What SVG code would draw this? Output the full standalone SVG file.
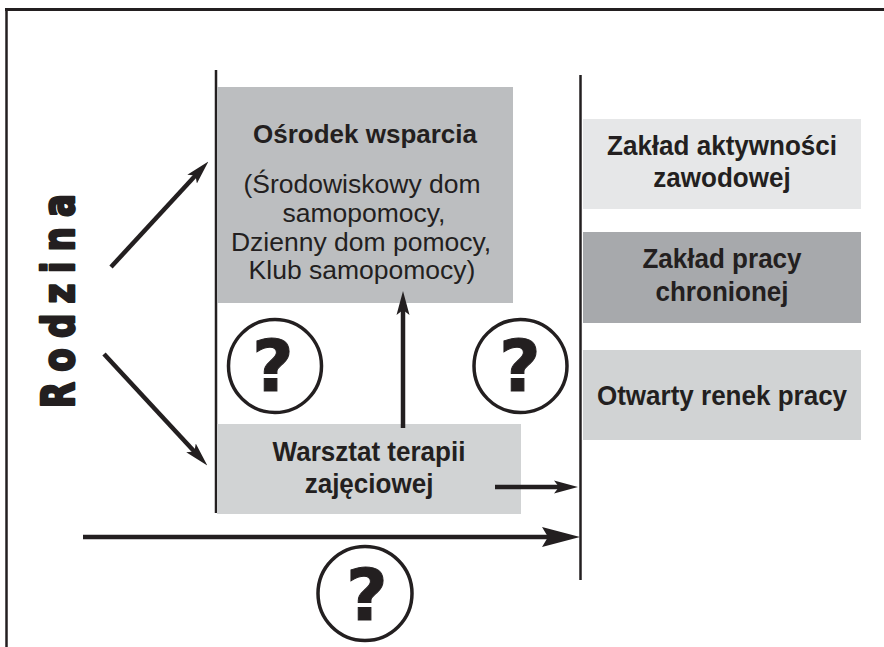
<svg xmlns="http://www.w3.org/2000/svg" width="884" height="647" viewBox="0 0 884 647">
  <style>
    .ink { stroke: #231f20; fill: none; }
    .rule { stroke: #231f20; stroke-width: 2.5; }
    .arrow { stroke: #231f20; stroke-width: 4.5; fill: none; }
    .bold { font-family: "Liberation Sans", Arial, sans-serif; font-weight: bold; fill: #231f20; text-anchor: middle; }
    .reg { font-family: "Liberation Sans", Arial, sans-serif; fill: #231f20; text-anchor: middle; }
    .tall { font-size: 28px; }
    .q { font-family: "DejaVu Sans", sans-serif; font-weight: bold; fill: #231f20; stroke: #231f20; stroke-width: 1; text-anchor: middle; font-size: 72px; }
    .ring { stroke: #231f20; stroke-width: 3.5; fill: #ffffff; }
  </style>
  <defs>
    <marker id="head" viewBox="0 0 24 14" markerWidth="24" markerHeight="14" refX="10" refY="7" orient="auto" markerUnits="userSpaceOnUse">
      <path d="M0,0.5 L24,7 L0,13.5 L5,7 z" fill="#231f20"/>
    </marker>
    <marker id="bighead" viewBox="0 0 38 20" markerWidth="38" markerHeight="20" refX="18" refY="10" orient="auto" markerUnits="userSpaceOnUse">
      <path d="M0,0 L38,10 L0,20 L6,10 z" fill="#231f20"/>
    </marker>
  </defs>

  <rect width="884" height="647" fill="#ffffff"/>

  <!-- outer frame: top and left edges -->
  <g id="frame">
    <line class="ink" x1="5" y1="9.5" x2="884" y2="9.5" stroke-width="3"/>
    <line class="ink" x1="6.5" y1="8" x2="6.5" y2="647" stroke-width="2.5"/>
  </g>

  <!-- dividing rules -->
  <g id="rules">
    <line class="rule" x1="216" y1="70" x2="216" y2="513"/>
    <line class="rule" x1="580.5" y1="75" x2="580.5" y2="580"/>
  </g>

  <g id="rodzina">
    <text transform="translate(74,301) rotate(-90) scale(0.76,1)" x="0" y="0" font-family="'DejaVu Sans', sans-serif" font-weight="bold" font-size="45" fill="#231f20" stroke="#231f20" stroke-width="2.6" stroke-linejoin="round" text-anchor="middle" textLength="282" lengthAdjust="spacing">Rodzina</text>
  </g>

  <g id="osrodek">
    <rect x="217" y="87" width="296" height="216" fill="#bcbec0"/>
    <text class="bold" x="365" y="143" font-size="26">Ośrodek wsparcia</text>
    <text class="reg" x="362" y="193" font-size="26.5">(Środowiskowy dom</text>
    <text class="reg" x="364" y="222" font-size="26.5">samopomocy,</text>
    <text class="reg" x="361" y="251" font-size="26.5">Dzienny dom pomocy,</text>
    <text class="reg" x="362" y="279" font-size="26.5">Klub samopomocy)</text>
  </g>

  <g id="warsztat">
    <rect x="217" y="424" width="304" height="90" fill="#d1d3d4"/>
    <g transform="translate(369,0) scale(0.93,1)">
      <text class="bold tall" x="0" y="461">Warsztat terapii</text>
      <text class="bold tall" x="0" y="493">zajęciowej</text>
    </g>
  </g>

  <g id="zaklad-aktywnosci">
    <rect x="583" y="119" width="278" height="90" fill="#e6e7e8"/>
    <g transform="translate(722,0) scale(0.93,1)">
      <text class="bold tall" x="0" y="155">Zakład aktywności</text>
      <text class="bold tall" x="0" y="187">zawodowej</text>
    </g>
  </g>

  <g id="zaklad-pracy">
    <rect x="583" y="232" width="278" height="91" fill="#a7a9ac"/>
    <g transform="translate(722,0) scale(0.93,1)">
      <text class="bold tall" x="0" y="268">Zakład pracy</text>
      <text class="bold tall" x="0" y="301">chronionej</text>
    </g>
  </g>

  <g id="rynek">
    <rect x="583" y="350" width="278" height="90" fill="#d1d3d4"/>
    <g transform="translate(722,0) scale(0.93,1)">
      <text class="bold tall" x="0" y="405">Otwarty renek pracy</text>
    </g>
  </g>

  <g id="connectors">
    <line class="arrow" x1="111" y1="267" x2="198.9" y2="171.8" marker-end="url(#head)"/>
    <line class="arrow" x1="104" y1="354" x2="197.8" y2="455.2" marker-end="url(#head)"/>
    <line class="arrow" x1="403" y1="428" x2="403" y2="305" marker-end="url(#head)"/>
    <line class="arrow" x1="495" y1="487" x2="564" y2="487" marker-end="url(#head)"/>
    <line class="arrow" x1="83" y1="537" x2="560" y2="537" stroke-width="7" marker-end="url(#bighead)"/>
  </g>

  <g id="q-left">
    <circle class="ring" cx="275" cy="366" r="46.5"/>
    <text class="q" x="273" y="391">?</text>
  </g>
  <g id="q-right">
    <circle class="ring" cx="520.5" cy="366" r="46.5"/>
    <text class="q" x="520" y="391">?</text>
  </g>
  <g id="q-bottom">
    <circle class="ring" cx="365" cy="593.5" r="47"/>
    <text class="q" x="367" y="620">?</text>
  </g>
</svg>
